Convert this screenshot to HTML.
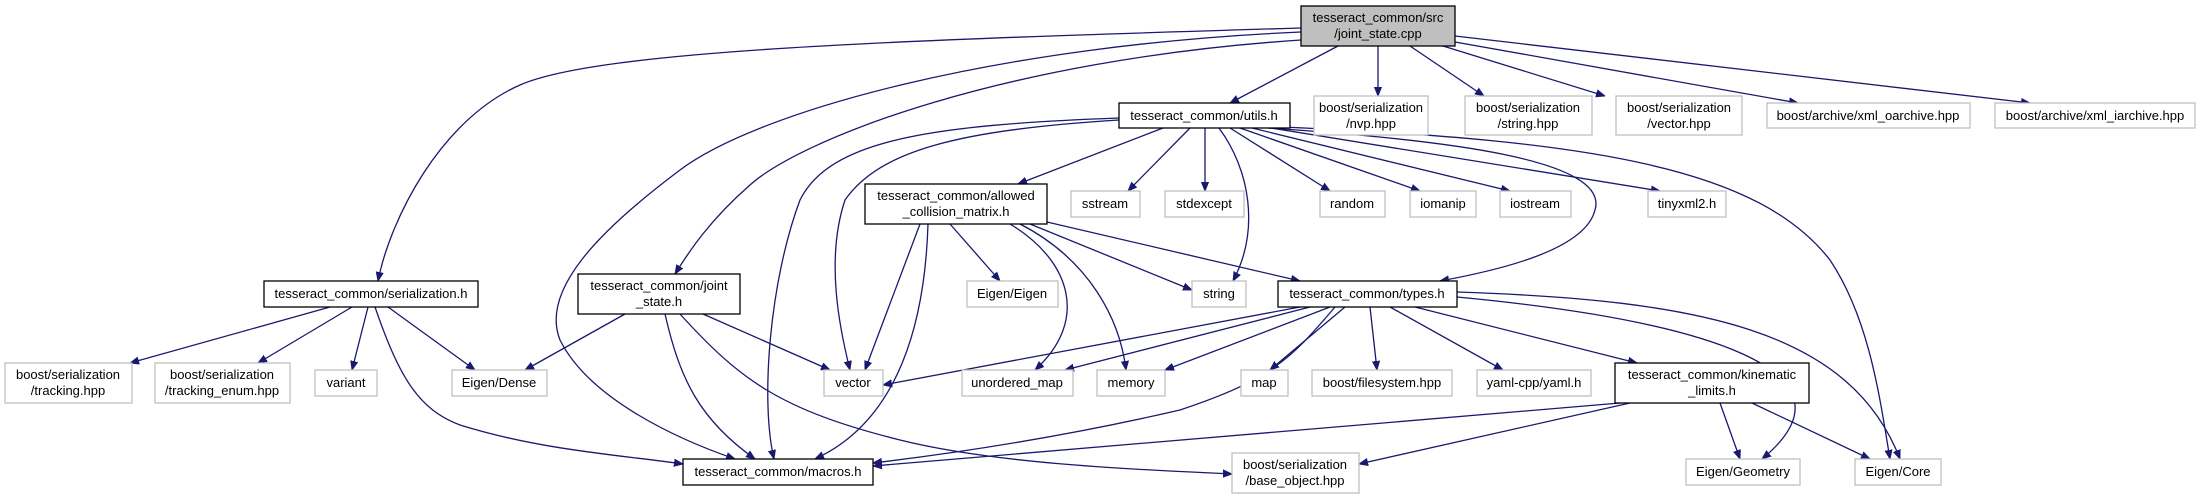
<!DOCTYPE html>
<html><head><meta charset="utf-8"><style>
html,body{margin:0;padding:0;background:#fff;}
svg{display:block;}
text{font-family:"Liberation Sans",sans-serif;font-size:13px;fill:#000;}
.e{fill:none;stroke:#191970;stroke-width:1.3;}
.n{fill:#fff;stroke:#000;stroke-width:1.3;}
.g{fill:#fff;stroke:#bfbfbf;stroke-width:1.3;}
</style></head><body>
<svg width="2201" height="499" viewBox="0 0 2201 499" xmlns="http://www.w3.org/2000/svg">
<defs><marker id="a" viewBox="0 0 10 10" refX="10" refY="5" markerWidth="9" markerHeight="9" markerUnits="userSpaceOnUse" orient="auto"><path d="M0,1 L10,5 L0,9 z" fill="#191970" stroke="#191970"/></marker></defs>
<g marker-end="url(#a)">
<!-- cpp -->
<path class="e" d="M1338,46 L1230,103"/>
<path class="e" d="M1378,46 L1378,96"/>
<path class="e" d="M1410,46 L1484,96"/>
<path class="e" d="M1443,46 L1605,96"/>
<path class="e" d="M1455,42 L1798,103"/>
<path class="e" d="M1455,36 L2030,103"/>
<path class="e" d="M1301,28 C900,40 600,50 520,85 C440,120 390,220 378,281"/>
<path class="e" d="M1301,32 C1000,45 760,110 680,170 C600,230 540,290 560,340 C590,400 680,440 735,459"/>
<path class="e" d="M1301,40 C1000,60 800,140 750,185 C710,220 690,250 675,274"/>
<!-- utils -->
<path class="e" d="M1163,128 L1018,184"/>
<path class="e" d="M1190,128 L1128,191"/>
<path class="e" d="M1205,128 L1205,191"/>
<path class="e" d="M1219,128 C1250,170 1260,230 1233,281"/>
<path class="e" d="M1230,128 L1330,191"/>
<path class="e" d="M1240,128 L1420,191"/>
<path class="e" d="M1252,128 L1510,191"/>
<path class="e" d="M1265,127 L1660,191"/>
<path class="e" d="M1268,128 C1450,140 1610,160 1595,210 C1585,250 1500,270 1440,281"/>
<path class="e" d="M1280,127 C1600,140 1760,170 1830,260 C1870,320 1880,400 1890,459"/>
<path class="e" d="M1119,120 C960,130 880,150 845,200 C825,260 840,330 850,370"/>
<path class="e" d="M1119,118 C930,125 830,140 800,200 C770,280 760,400 774,459"/>
<!-- ACM -->
<path class="e" d="M920,224 L865,370"/>
<path class="e" d="M928,224 C925,320 900,420 815,459"/>
<path class="e" d="M950,224 L1000,281"/>
<path class="e" d="M1010,224 C1070,260 1090,320 1035,370"/>
<path class="e" d="M1020,224 C1090,260 1120,320 1126,370"/>
<path class="e" d="M1030,224 L1192,290"/>
<path class="e" d="M1047,222 L1300,281"/>
<!-- serialization -->
<path class="e" d="M330,307 L130,363"/>
<path class="e" d="M352,307 L258,363"/>
<path class="e" d="M368,307 L352,370"/>
<path class="e" d="M388,307 L475,370"/>
<path class="e" d="M375,307 C400,380 420,410 460,425 C540,450 620,455 683,464"/>
<!-- joint_state.h -->
<path class="e" d="M625,314 L525,370"/>
<path class="e" d="M665,314 C680,380 700,420 755,459"/>
<path class="e" d="M680,314 C740,380 780,410 900,440 C1000,465 1150,470 1232,474"/>
<path class="e" d="M703,314 L830,370"/>
<!-- types -->
<path class="e" d="M1300,307 L883,385"/>
<path class="e" d="M1310,307 L1065,370"/>
<path class="e" d="M1330,307 L1165,370"/>
<path class="e" d="M1345,307 L1270,370"/>
<path class="e" d="M1370,307 L1377,370"/>
<path class="e" d="M1390,307 L1503,370"/>
<path class="e" d="M1415,307 L1637,363"/>
<path class="e" d="M1335,307 C1290,360 1270,380 1180,410 C1050,440 940,455 873,463"/>
<path class="e" d="M1457,297 C1700,320 1870,370 1762,459"/>
<path class="e" d="M1457,292 C1700,300 1850,330 1900,459"/>
<!-- kinematic -->
<path class="e" d="M1620,403 C1300,430 1000,455 873,466"/>
<path class="e" d="M1630,403 L1359,464"/>
<path class="e" d="M1720,403 L1740,459"/>
<path class="e" d="M1752,403 L1870,459"/>
</g>
<!-- nodes -->
<rect x="1301" y="6" width="154" height="40" fill="#bfbfbf" stroke="#000" stroke-width="1.3"/>
<text x="1378" y="22" text-anchor="middle">tesseract_common/src</text><text x="1378" y="38" text-anchor="middle">/joint_state.cpp</text>

<rect class="n" x="1119" y="103" width="171" height="25"/><text x="1204" y="120" text-anchor="middle">tesseract_common/utils.h</text>
<rect class="g" x="1314" y="96" width="114" height="39"/><text x="1371" y="112" text-anchor="middle">boost/serialization</text><text x="1371" y="128" text-anchor="middle">/nvp.hpp</text>
<rect class="g" x="1465" y="96" width="127" height="39"/><text x="1528" y="112" text-anchor="middle">boost/serialization</text><text x="1528" y="128" text-anchor="middle">/string.hpp</text>
<rect class="g" x="1616" y="96" width="126" height="39"/><text x="1679" y="112" text-anchor="middle">boost/serialization</text><text x="1679" y="128" text-anchor="middle">/vector.hpp</text>
<rect class="g" x="1767" y="103" width="203" height="25"/><text x="1868" y="120" text-anchor="middle">boost/archive/xml_oarchive.hpp</text>
<rect class="g" x="1995" y="103" width="200" height="25"/><text x="2095" y="120" text-anchor="middle">boost/archive/xml_iarchive.hpp</text>

<rect class="n" x="865" y="184" width="182" height="40"/><text x="956" y="200" text-anchor="middle">tesseract_common/allowed</text><text x="956" y="216" text-anchor="middle">_collision_matrix.h</text>
<rect class="g" x="1071" y="191" width="69" height="26"/><text x="1105" y="208" text-anchor="middle">sstream</text>
<rect class="g" x="1165" y="191" width="79" height="26"/><text x="1204" y="208" text-anchor="middle">stdexcept</text>
<rect class="g" x="1320" y="191" width="65" height="26"/><text x="1352" y="208" text-anchor="middle">random</text>
<rect class="g" x="1410" y="191" width="66" height="26"/><text x="1443" y="208" text-anchor="middle">iomanip</text>
<rect class="g" x="1500" y="191" width="71" height="26"/><text x="1535" y="208" text-anchor="middle">iostream</text>
<rect class="g" x="1648" y="191" width="78" height="26"/><text x="1687" y="208" text-anchor="middle">tinyxml2.h</text>

<rect class="n" x="264" y="281" width="214" height="26"/><text x="371" y="298" text-anchor="middle">tesseract_common/serialization.h</text>
<rect class="n" x="578" y="274" width="162" height="40"/><text x="659" y="290" text-anchor="middle">tesseract_common/joint</text><text x="659" y="306" text-anchor="middle">_state.h</text>
<rect class="g" x="967" y="281" width="91" height="26"/><text x="1012" y="298" text-anchor="middle">Eigen/Eigen</text>
<rect class="g" x="1192" y="281" width="54" height="26"/><text x="1219" y="298" text-anchor="middle">string</text>
<rect class="n" x="1278" y="281" width="179" height="26"/><text x="1367" y="298" text-anchor="middle">tesseract_common/types.h</text>

<rect class="g" x="5" y="363" width="127" height="40"/><text x="68" y="379" text-anchor="middle">boost/serialization</text><text x="68" y="395" text-anchor="middle">/tracking.hpp</text>
<rect class="g" x="155" y="363" width="135" height="40"/><text x="222" y="379" text-anchor="middle">boost/serialization</text><text x="222" y="395" text-anchor="middle">/tracking_enum.hpp</text>
<rect class="g" x="315" y="370" width="62" height="26"/><text x="346" y="387" text-anchor="middle">variant</text>
<rect class="g" x="452" y="370" width="95" height="26"/><text x="499" y="387" text-anchor="middle">Eigen/Dense</text>
<rect class="g" x="824" y="370" width="59" height="26"/><text x="853" y="387" text-anchor="middle">vector</text>
<rect class="g" x="962" y="370" width="111" height="26"/><text x="1017" y="387" text-anchor="middle">unordered_map</text>
<rect class="g" x="1097" y="370" width="68" height="26"/><text x="1131" y="387" text-anchor="middle">memory</text>
<rect class="g" x="1241" y="370" width="47" height="26"/><text x="1264" y="387" text-anchor="middle">map</text>
<rect class="g" x="1312" y="370" width="140" height="26"/><text x="1382" y="387" text-anchor="middle">boost/filesystem.hpp</text>
<rect class="g" x="1477" y="370" width="114" height="26"/><text x="1534" y="387" text-anchor="middle">yaml-cpp/yaml.h</text>
<rect class="n" x="1615" y="363" width="194" height="40"/><text x="1712" y="379" text-anchor="middle">tesseract_common/kinematic</text><text x="1712" y="395" text-anchor="middle">_limits.h</text>

<rect class="n" x="683" y="459" width="190" height="26"/><text x="778" y="476" text-anchor="middle">tesseract_common/macros.h</text>
<rect class="g" x="1232" y="453" width="127" height="40"/><text x="1295" y="469" text-anchor="middle">boost/serialization</text><text x="1295" y="485" text-anchor="middle">/base_object.hpp</text>
<rect class="g" x="1686" y="459" width="114" height="26"/><text x="1743" y="476" text-anchor="middle">Eigen/Geometry</text>
<rect class="g" x="1855" y="459" width="86" height="26"/><text x="1898" y="476" text-anchor="middle">Eigen/Core</text>
</svg>
</body></html>
